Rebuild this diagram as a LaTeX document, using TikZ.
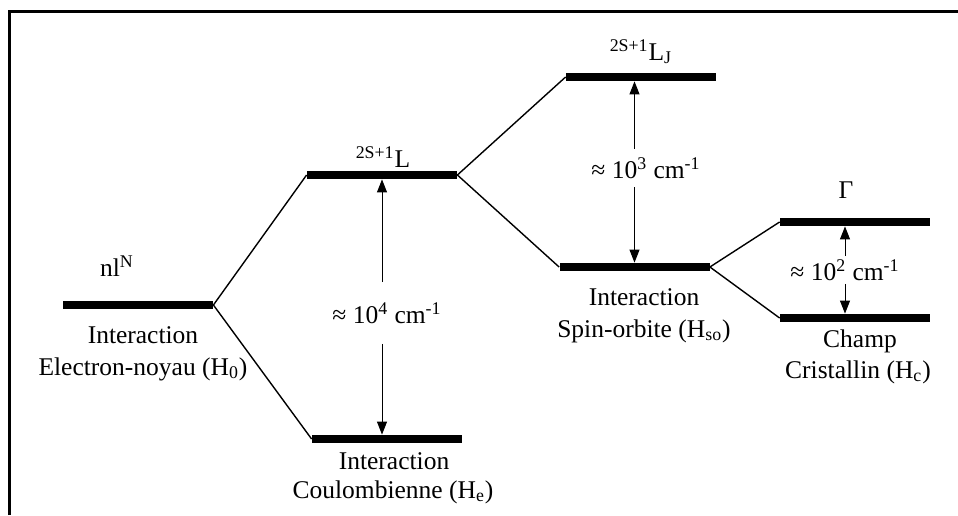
\documentclass[tikz,border=0pt]{standalone}
\usepackage{fontspec}
\setmainfont{Liberation Serif}
\usetikzlibrary{arrows.meta}
\begin{document}
\begin{tikzpicture}[x=0.5pt,y=-0.5pt,>={Triangle[length=6.5pt,width=5pt]},
  level/.style={fill=black,minimum width=75pt,minimum height=4pt,inner sep=0pt},
  txt/.style={font=\fontsize{12.75}{15}\selectfont,inner sep=0pt},
  gap/.style={txt,inner xsep=1pt},
  link/.style={line width=0.7pt},
  split/.style={->,line width=0.5pt}]
\useasboundingbox (0,0) rectangle (958,515);
\draw[line width=1.5pt] (9,515) -- (9,11) -- (958,11);
% levels
\node[level] (nl) at (138,305) {};
\node[level] (L) at (382,175) {};
\node[level] (C) at (387,439) {};
\node[level] (LJ) at (641,77) {};
\node[level] (SO) at (634.5,267) {};
\node[level] (G) at (855,222) {};
\node[level] (CF) at (855,318) {};
% links between levels
\draw[link] (nl.east) -- (L.west);
\draw[link] (nl.east) -- (C.west);
\draw[link] (L.east) -- (LJ.west);
\draw[link] (L.east) -- (SO.west);
\draw[link] (SO.east) -- (G.west);
\draw[link] (SO.east) -- (CF.west);
% level names
\node[txt] (nlN) at (117,266) {nl\textsuperscript{N}};
\node[txt] (tL) at (383,157) {\textsuperscript{2S+1}L};
\node[txt] (tLJ) at (641,52) {\textsuperscript{2S+1}L\textsubscript{J}};
\node[txt] (tG) at (846,190) {Γ};
% interactions
\node[txt] (intA) at (143,335) {Interaction};
\node[txt] (elec) at (143,369) {Electron-noyau (H\textsubscript{0})};
\node[txt] (intB) at (394,461) {Interaction};
\node[txt] (coul) at (393,492) {Coulombienne (H\textsubscript{e})};
\node[txt] (intC) at (644,297) {Interaction};
\node[txt] (spin) at (644,331) {Spin-orbite (H\textsubscript{so})};
\node[txt] (champ) at (860,341) {Champ};
\node[txt] (crist) at (858,372) {Cristallin (H\textsubscript{c})};
% splittings
\node[gap,inner ysep=10pt] (s4) at (387,313) {≈ 10\textsuperscript{4} cm\textsuperscript{-1}};
\node[gap,inner ysep=4.25pt] (s3) at (646,168) {≈ 10\textsuperscript{3} cm\textsuperscript{-1}};
\node[gap,inner ysep=1.5pt] (s2) at (845,270) {≈ 10\textsuperscript{2} cm\textsuperscript{-1}};
\draw[split] (L.south |- s4.north) -- (L.south);
\draw[split] (L.south |- s4.south) -- (L.south |- C.north);
\draw[split] (SO.north |- s3.north) -- (SO.north |- LJ.south);
\draw[split] (SO.north |- s3.south) -- (SO.north);
\draw[split] (s2.north) -- (s2.north |- G.south);
\draw[split] (s2.south) -- (s2.south |- CF.north);
\end{tikzpicture}
\end{document}
